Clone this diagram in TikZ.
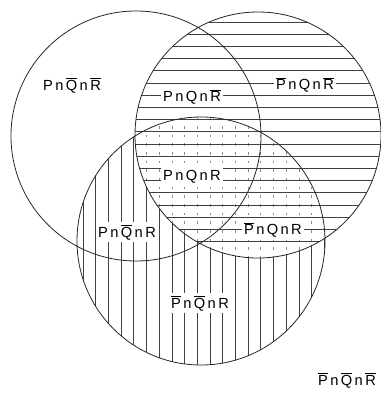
\documentclass[tikz,border=0pt]{standalone}
\usepackage{fontspec}
\newfontfamily\labelfont{Liberation Sans}
\newcommand{\nt}[1]{$\overline{\mbox{#1}}$}
\newcommand{\triple}[3]{#1\kern1.8pt n\kern1.8pt #2\kern1.8pt n\kern1.8pt #3}

\begin{document}
\begin{tikzpicture}[x=0.75pt,y=-0.75pt,line width=0.6pt,
    set/.style={draw=black!85},
    hatch/.style={draw=black!75,line width=0.6pt},
    dots/.style={draw=black!45,line width=0.5pt,dash pattern=on 2pt off 4.5pt},
    region/.style={fill=white,inner sep=1.5pt,font=\labelfont\fontsize{11}{13}\selectfont}]
    \useasboundingbox (0,0) rectangle (381,393);
    \coordinate (P) at (136,136);
    \coordinate (Q) at (258,135);
    \coordinate (R) at (201,241);

    % vertical hatching in R
    \begin{scope}
      \clip (R) circle[radius=124];
      \foreach \x in {0,...,19}
        \draw[hatch] (83+12.7*\x,100) -- (83+12.7*\x,380);
    \end{scope}
    % dotted where R meets Q
    \begin{scope}
      \clip (R) circle[radius=124];
      \clip (Q) circle[radius=123];
      \fill[white] (Q) circle[radius=123];
      \foreach \x in {0,...,19}
        \draw[dots] (83+12.7*\x,100) -- (83+12.7*\x,380);
    \end{scope}
    % horizontal hatching in Q
    \begin{scope}
      \clip (Q) circle[radius=123];
      \foreach \y in {0,...,18}
        \draw[hatch] (120,22+12.2*\y) -- (390,22+12.2*\y);
    \end{scope}

    \draw[set] (P) circle[radius=125] (Q) circle[radius=123] (R) circle[radius=124];

    \node[region] (pqr1) at (72,85) {\triple{P}{\nt{Q}}{\nt{R}}};
    \node[region] (pqr2) at (192,97) {\triple{P}{Q}{\nt{R}}};
    \node[region] (pqr3) at (305,85) {\triple{\nt{P}}{Q}{\nt{R}}};
    \node[region] (pqr4) at (192,177) {\triple{P}{Q}{R}};
    \node[region] (pqr5) at (127,232) {\triple{P}{\nt{Q}}{R}};
    \node[region] (pqr6) at (273,230) {\triple{\nt{P}}{Q}{R}};
    \node[region] (pqr7) at (200,303) {\triple{\nt{P}}{\nt{Q}}{R}};
    \node[region] (pqr8) at (347,380) {\triple{\nt{P}}{\nt{Q}}{\nt{R}}};
\end{tikzpicture}
\end{document}
